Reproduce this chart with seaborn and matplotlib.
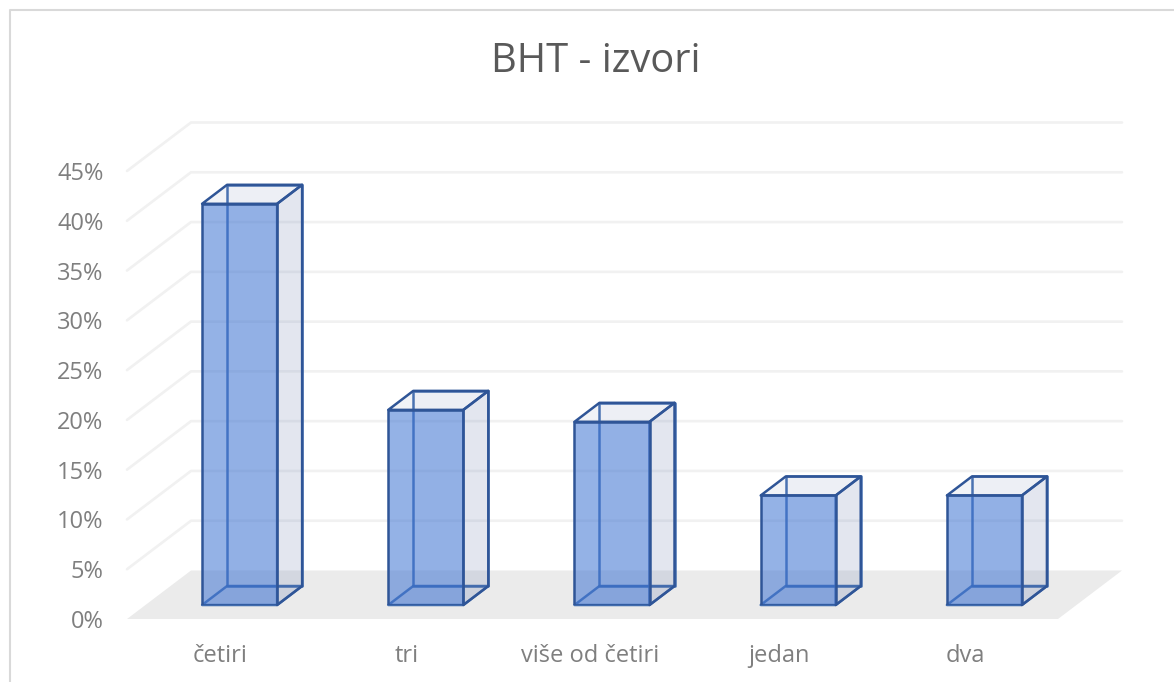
import matplotlib
matplotlib.use('Agg')
import matplotlib.pyplot as plt
import seaborn as sns
import pandas as pd
from matplotlib.colors import to_rgba
from matplotlib.lines import Line2D
from matplotlib.patches import Polygon
from matplotlib.transforms import Affine2D, IdentityTransform

# Dados
kategorije = ['četiri', 'tri', 'više od četiri', 'jedan', 'dva']
vrijednosti = [40.3, 19.6, 18.4, 11.0, 11.0]
y_oznake = [0, 5, 10, 15, 20, 25, 30, 35, 40, 45]
naslov = 'BHT - izvori'

W, H = 1174, 682

sns.set_theme(style='white')
plt.rcParams['font.family'] = ['Open Sans', 'DejaVu Sans']

df = pd.DataFrame({'kategorija': kategorije, 'vrijednost': vrijednosti})


def pozicija(lijevo, desno, dolje, gore):
    return [lijevo / W, 1 - dolje / H, (desno - lijevo) / W, (dolje - gore) / H]


fig = plt.figure(figsize=(W / 100, H / 100), dpi=100, facecolor='white')

# prednja ravnina, samo za oznake osi
ax_osi = fig.add_axes(pozicija(127, 1058, 619, 171))
ax_osi.set_xlim(-0.5, 4.5)
ax_osi.set_ylim(0, 45)
ax_osi.set_xticks(range(len(kategorije)))
ax_osi.set_xticklabels(kategorije)
ax_osi.set_yticks(y_oznake)
ax_osi.set_yticklabels([f'{v}%' for v in y_oznake])
ax_osi.tick_params(axis='x', length=0, pad=18, labelsize=17, labelcolor='#7f7f7f')
ax_osi.tick_params(axis='y', length=0, pad=17, labelsize=17, labelcolor='#7f7f7f')
ax_osi.patch.set_alpha(0)
sns.despine(ax=ax_osi, left=True, bottom=True)

# "više od četiri" je u originalu malo lijevo
oznaka = ax_osi.get_xticklabels()[2]
oznaka.set_transform(oznaka.get_transform() + Affine2D().translate(-2.5, 0))

# stupci
ax = fig.add_axes(pozicija(146.5, 1077.5, 605, 157))
sns.barplot(data=df, x='kategorija', y='vrijednost', color='#4478d4', width=0.403,
            saturation=1, edgecolor='#2f5597', linewidth=1.8, zorder=6, ax=ax)
ax.set_xlim(-0.5, 4.5)
ax.set_ylim(0, 45)
ax.set_xlabel('')
ax.set_ylabel('')
ax.set_xticks([])
ax.set_yticks([])
ax.patch.set_alpha(0)
sns.despine(ax=ax, left=True, bottom=True)

stupci = list(ax.patches)


def tocka(x, y, dx=0, dy=0):
    px, py = ax.transData.transform((x, y))
    return (px + dx, py + dy)


def poligon(tocke, boja, z, rub='none'):
    ax.add_patch(Polygon(tocke, closed=True, facecolor=boja, edgecolor=rub, linewidth=1.8,
                         joinstyle='round', transform=IdentityTransform(), clip_on=False, zorder=z))


# pod
poligon([tocka(-0.5, 0, -19.5, -14), tocka(4.5, 0, -19.5, -14),
         tocka(4.5, 0, 44.5, 34.5), tocka(-0.5, 0, 44.5, 34.5)], '#ebebeb', 1)

# mreza na zidu
for v in y_oznake[1:]:
    a = tocka(-0.5, v, -19.5, -14)
    b = tocka(-0.5, v, 44.5, 34.5)
    c = tocka(4.5, v, 44.5, 34.5)
    ax.add_line(Line2D([a[0], b[0], c[0]], [a[1], b[1], c[1]], color='#f1f1f1', lw=1.9,
                       transform=IdentityTransform(), clip_on=False, zorder=2))

# dubina stupaca
dx, dy = 25, 19
rub_sredina = to_rgba('#2f5fa8', 0.9)
for bar in stupci:
    x0, x1 = bar.get_x(), bar.get_x() + bar.get_width()
    h = bar.get_height()
    bar.set_facecolor(to_rgba('#4478d4', 0.57))
    poligon([tocka(x0, 0, dx, dy), tocka(x1, 0, dx, dy), tocka(x1, h, dx, dy), tocka(x0, h, dx, dy)],
            to_rgba('#8797bf', 0.04), 3, rub_sredina)
    poligon([tocka(x0, 0), tocka(x1, 0), tocka(x1, 0, dx, dy), tocka(x0, 0, dx, dy)],
            to_rgba('#8797bf', 0.12), 3, rub_sredina)
    poligon([tocka(x0, h), tocka(x1, h), tocka(x1, h, dx, dy), tocka(x0, h, dx, dy)],
            to_rgba('#8797bf', 0.11), 4, '#2f5597')
    poligon([tocka(x1, 0), tocka(x1, 0, dx, dy), tocka(x1, h, dx, dy), tocka(x1, h)],
            to_rgba('#8797bf', 0.2), 5, '#2f5597')

# okvir
fig.add_artist(Line2D([10 / W, 10 / W, 1], [0, 1 - 10 / H, 1 - 10 / H], color='#d9d9d9', lw=1.5))

fig.text(596 / W, 1 - 62 / H, naslov, ha='center', va='center', fontsize=28.7, color='#595959')

fig.savefig('out.png', dpi=100)
